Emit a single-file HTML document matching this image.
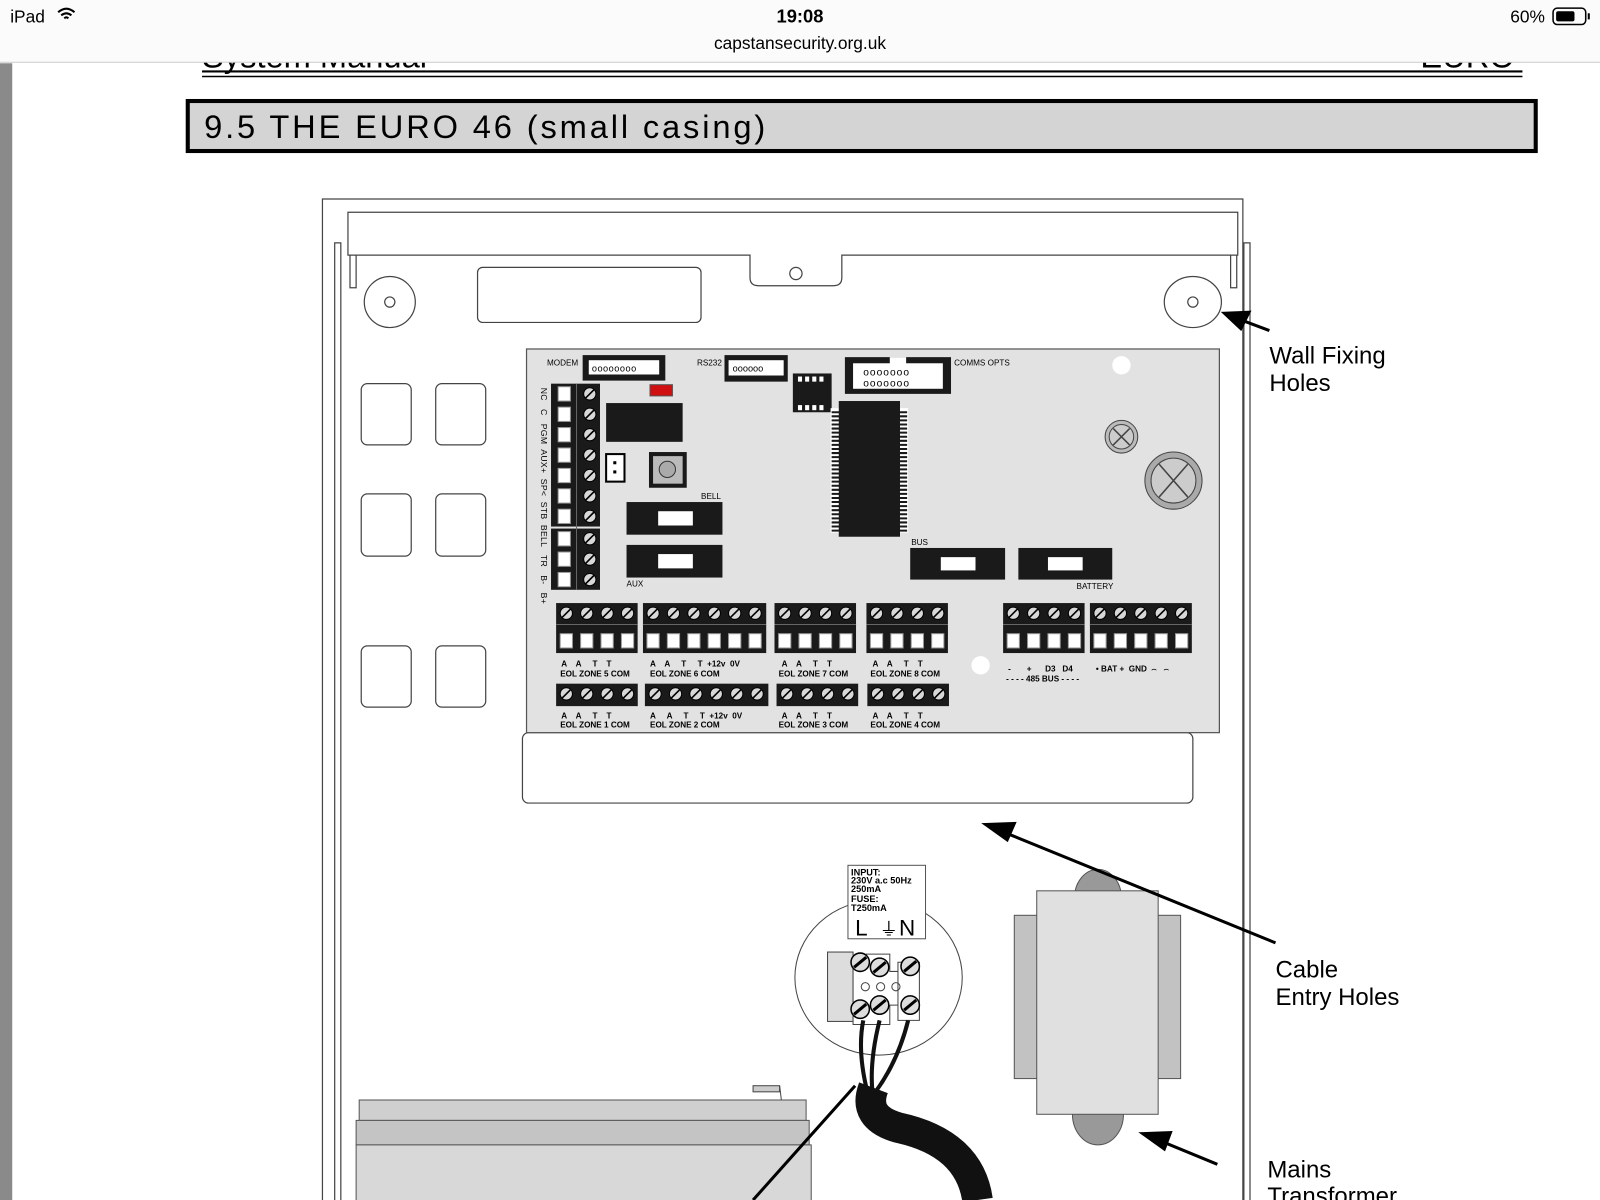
<!DOCTYPE html>
<html><head><meta charset="utf-8"><style>
html,body{margin:0;padding:0;background:#fff;width:1600px;height:1200px;overflow:hidden}
svg{display:block}
text{font-family:"Liberation Sans",sans-serif;white-space:pre}
</style></head><body>
<svg width="1600" height="1200" viewBox="0 0 1568 1176" xmlns="http://www.w3.org/2000/svg" xml:space="preserve">
<defs>
<g id="s"><circle r="6" fill="#d8d8d8" stroke="#000" stroke-width="1"/><line x1="-4" y1="4" x2="4" y2="-4" stroke="#000" stroke-width="1.6"/></g>
<rect id="p" x="-6" y="-7" width="12" height="14" fill="#fff" stroke="#999"/>
<g id="ls"><circle r="9" fill="#ddd" stroke="#000" stroke-width="1.5"/><line x1="-6" y1="5" x2="6" y2="-5" stroke="#000" stroke-width="3"/></g>
</defs>
<rect width="1568" height="1176" fill="#fff"/>
<!-- header text cut off -->
<text x="198" y="66" font-size="32" fill="#000">System Manual</text>
<text x="1392" y="66" font-size="32" fill="#000">EURO</text>
<!-- status bar -->
<rect x="0" y="0" width="1568" height="61" fill="#fbfbfb"/>
<line x1="0" y1="61" x2="1568" y2="61" stroke="#ccc"/>
<text x="10" y="22" font-size="17">iPad</text>
<path d="M57 12 q8-7 16 0 M60 15 q5-4 10 0 M63 18 q2-2 4 0" stroke="#000" stroke-width="2" fill="none"/>
<text x="784" y="22" font-size="18" font-weight="bold" text-anchor="middle">19:08</text>
<text x="784" y="48" font-size="17" text-anchor="middle">capstansecurity.org.uk</text>
<text x="1480" y="22" font-size="17">60%</text>
<rect x="1522" y="8" width="32" height="16" rx="4" fill="none" stroke="#000" stroke-width="1.5"/>
<rect x="1525" y="11" width="18" height="10" rx="2" fill="#000"/>
<rect x="1556" y="13" width="2" height="6" fill="#000"/>
<rect x="0" y="62" width="12" height="1114" fill="#8a8a8a"/>
<line x1="198" y1="70" x2="1492" y2="70" stroke="#000" stroke-width="2"/>
<line x1="198" y1="75" x2="1492" y2="75" stroke="#000" stroke-width="1.5"/>
<!-- title -->
<rect x="184" y="99" width="1321" height="49" fill="#d4d4d4" stroke="#000" stroke-width="4"/>
<text x="200" y="135" font-size="32" letter-spacing="2.8">9.5 THE EURO 46 (small casing)</text>
<!-- casing -->
<g fill="none" stroke="#444" stroke-width="1.2">
<path d="M316 1176 V195 H1218 V1176"/>
<path d="M328 1176 V238 H334 V1176"/>
<path d="M1219 1176 V238 H1225 V1176"/>
<path d="M341 250 V208 H1213 V250 H825 V272 Q825 280 817 280 H743 Q735 280 735 272 V250 Z"/>
<path d="M343 250 V282 H349 V250 M1206 250 V282 H1212 V250"/>
<circle cx="780" cy="268" r="6"/>
<ellipse cx="382" cy="296" rx="25" ry="25"/><circle cx="382" cy="296" r="5"/>
<ellipse cx="1169" cy="296" rx="28" ry="25"/><circle cx="1169" cy="296" r="5"/>
<rect x="468" y="262" width="219" height="54" rx="5"/>
<rect x="354" y="376" width="49" height="60" rx="6"/><rect x="427" y="376" width="49" height="60" rx="6"/>
<rect x="354" y="484" width="49" height="61" rx="6"/><rect x="427" y="484" width="49" height="61" rx="6"/>
<rect x="354" y="633" width="49" height="60" rx="6"/><rect x="427" y="633" width="49" height="60" rx="6"/>
<rect x="512" y="718" width="657" height="69" rx="6"/>
</g>
<!-- PCB -->
<rect x="516" y="342" width="679" height="376" fill="#e2e2e2" stroke="#555" stroke-width="1.2"/>
<g font-size="8" fill="#000">
<text x="536" y="358">MODEM</text><text x="683" y="358">RS232</text><text x="935" y="358">COMMS OPTS</text>
<text x="687" y="489">BELL</text><text x="614" y="575">AUX</text><text x="893" y="534">BUS</text><text x="1055" y="577">BATTERY</text>
</g>
<rect x="571" y="348" width="81" height="25" fill="#1a1a1a"/><rect x="577" y="353" width="69" height="14" fill="#fff"/>
<text x="580" y="364" font-size="9" letter-spacing="0.5">oooooooo</text>
<rect x="710" y="348" width="62" height="26" fill="#1a1a1a"/><rect x="714" y="353" width="54" height="15" fill="#fff"/>
<text x="718" y="364" font-size="9">oooooo</text>
<rect x="828" y="350" width="104" height="36" fill="#1a1a1a"/><rect x="836" y="356" width="88" height="25" fill="#fff"/>
<rect x="872" y="350" width="16" height="7" fill="#fff"/>
<text x="846" y="368" font-size="10" letter-spacing="1">ooooooo</text><text x="846" y="379" font-size="10" letter-spacing="1">ooooooo</text>
<rect x="777" y="366" width="38" height="38" fill="#1a1a1a"/>
<g fill="#fff"><rect x="782" y="369" width="4" height="5"/><rect x="789" y="369" width="4" height="5"/><rect x="796" y="369" width="4" height="5"/><rect x="803" y="369" width="4" height="5"/><rect x="782" y="397" width="4" height="5"/><rect x="789" y="397" width="4" height="5"/><rect x="796" y="397" width="4" height="5"/><rect x="803" y="397" width="4" height="5"/></g>
<rect x="814" y="400" width="76" height="122" fill="#fff"/>
<path d="M815 404 H889 M815 408 H889 M815 412 H889 M815 416 H889 M815 420 H889 M815 424 H889 M815 428 H889 M815 432 H889 M815 436 H889 M815 440 H889 M815 444 H889 M815 448 H889 M815 452 H889 M815 456 H889 M815 460 H889 M815 464 H889 M815 468 H889 M815 472 H889 M815 476 H889 M815 480 H889 M815 484 H889 M815 488 H889 M815 492 H889 M815 496 H889 M815 500 H889 M815 504 H889 M815 508 H889 M815 512 H889 M815 516 H889 M815 520 H889" stroke="#1a1a1a" stroke-width="2"/>
<rect x="822" y="393" width="60" height="133" fill="#1a1a1a"/>
<rect x="594" y="395" width="75" height="38" fill="#1a1a1a"/>
<rect x="637" y="377" width="22" height="11" fill="#d01010" stroke="#555"/>
<rect x="636" y="443" width="37" height="35" fill="#1a1a1a"/><rect x="640" y="447" width="29" height="27" fill="#bbb"/><circle cx="654" cy="460" r="8" fill="#aaa" stroke="#333"/>
<rect x="594" y="445" width="18" height="27" fill="#fff" stroke="#000" stroke-width="2"/><rect x="601" y="452" width="3" height="3"/><rect x="601" y="461" width="3" height="3"/>
<rect x="614" y="492" width="94" height="32" fill="#1a1a1a"/><rect x="645" y="501" width="34" height="14" fill="#fff"/>
<rect x="614" y="534" width="94" height="32" fill="#1a1a1a"/><rect x="645" y="543" width="34" height="14" fill="#fff"/>
<rect x="892" y="537" width="93" height="31" fill="#1a1a1a"/><rect x="922" y="546" width="34" height="13" fill="#fff"/>
<rect x="998" y="537" width="92" height="31" fill="#1a1a1a"/><rect x="1027" y="546" width="34" height="13" fill="#fff"/>
<circle cx="1099" cy="358" r="9" fill="#fff"/><circle cx="961" cy="652" r="9" fill="#fff"/>
<g stroke="#444" fill="#bbb"><circle cx="1099" cy="428" r="16"/><circle cx="1099" cy="428" r="12" fill="#ccc"/><path d="M1091 420 L1107 436 M1107 420 L1091 436" stroke-width="1.5"/>
<circle cx="1150" cy="471" r="28" fill="#aaa"/><circle cx="1150" cy="471" r="22" fill="#ccc"/><path d="M1136 455 L1164 487 M1164 455 L1136 487" stroke-width="1.5"/></g>
<!-- left vertical terminal -->
<rect x="540" y="376" width="48" height="140" fill="#1a1a1a"/><rect x="540" y="518" width="48" height="60" fill="#1a1a1a"/>
<line x1="565" y1="376" x2="565" y2="578" stroke="#666"/>
<g>
<use href="#p" x="553" y="386"/><use href="#s" x="578" y="386"/>
<use href="#p" x="553" y="406"/><use href="#s" x="578" y="406"/>
<use href="#p" x="553" y="426"/><use href="#s" x="578" y="426"/>
<use href="#p" x="553" y="446"/><use href="#s" x="578" y="446"/>
<use href="#p" x="553" y="466"/><use href="#s" x="578" y="466"/>
<use href="#p" x="553" y="486"/><use href="#s" x="578" y="486"/>
<use href="#p" x="553" y="506"/><use href="#s" x="578" y="506"/>
<use href="#p" x="553" y="528"/><use href="#s" x="578" y="528"/>
<use href="#p" x="553" y="548"/><use href="#s" x="578" y="548"/>
<use href="#p" x="553" y="568"/><use href="#s" x="578" y="568"/>
</g>
<text transform="translate(530,380) rotate(90)" font-size="8.5" letter-spacing="0.3">NC   C   PGM  AUX+  SP&lt;  STB  BELL   TR   B-   B+</text>
<!-- bottom terminal blocks -->
<g fill="#1a1a1a">
<rect x="545" y="591" width="80" height="49"/><rect x="630" y="591" width="121" height="49"/><rect x="759" y="591" width="80" height="49"/><rect x="849" y="591" width="80" height="49"/><rect x="983" y="591" width="80" height="49"/><rect x="1068" y="591" width="100" height="49"/>
<rect x="545" y="670" width="80" height="22"/><rect x="632" y="670" width="121" height="22"/><rect x="761" y="670" width="80" height="22"/><rect x="850" y="670" width="80" height="22"/>
</g>
<g stroke="#666" stroke-width="1"><line x1="545" y1="612" x2="1168" y2="612"/></g>
<rect x="625" y="591" width="5" height="49" fill="#e2e2e2"/><rect x="751" y="591" width="8" height="49" fill="#e2e2e2"/><rect x="839" y="591" width="10" height="49" fill="#e2e2e2"/><rect x="929" y="591" width="54" height="49" fill="#e2e2e2"/><rect x="1063" y="591" width="5" height="49" fill="#e2e2e2"/>
<g>
<use href="#s" x="555" y="601"/><use href="#s" x="575" y="601"/><use href="#s" x="595" y="601"/><use href="#s" x="615" y="601"/>
<use href="#s" x="640" y="601"/><use href="#s" x="660" y="601"/><use href="#s" x="680" y="601"/><use href="#s" x="700" y="601"/><use href="#s" x="720" y="601"/><use href="#s" x="740" y="601"/>
<use href="#s" x="769" y="601"/><use href="#s" x="789" y="601"/><use href="#s" x="809" y="601"/><use href="#s" x="829" y="601"/>
<use href="#s" x="859" y="601"/><use href="#s" x="879" y="601"/><use href="#s" x="899" y="601"/><use href="#s" x="919" y="601"/>
<use href="#s" x="993" y="601"/><use href="#s" x="1013" y="601"/><use href="#s" x="1033" y="601"/><use href="#s" x="1053" y="601"/>
<use href="#s" x="1078" y="601"/><use href="#s" x="1098" y="601"/><use href="#s" x="1118" y="601"/><use href="#s" x="1138" y="601"/><use href="#s" x="1158" y="601"/>
<use href="#p" x="555" y="628"/><use href="#p" x="575" y="628"/><use href="#p" x="595" y="628"/><use href="#p" x="615" y="628"/>
<use href="#p" x="640" y="628"/><use href="#p" x="660" y="628"/><use href="#p" x="680" y="628"/><use href="#p" x="700" y="628"/><use href="#p" x="720" y="628"/><use href="#p" x="740" y="628"/>
<use href="#p" x="769" y="628"/><use href="#p" x="789" y="628"/><use href="#p" x="809" y="628"/><use href="#p" x="829" y="628"/>
<use href="#p" x="859" y="628"/><use href="#p" x="879" y="628"/><use href="#p" x="899" y="628"/><use href="#p" x="919" y="628"/>
<use href="#p" x="993" y="628"/><use href="#p" x="1013" y="628"/><use href="#p" x="1033" y="628"/><use href="#p" x="1053" y="628"/>
<use href="#p" x="1078" y="628"/><use href="#p" x="1098" y="628"/><use href="#p" x="1118" y="628"/><use href="#p" x="1138" y="628"/><use href="#p" x="1158" y="628"/>
<use href="#s" x="555" y="680"/><use href="#s" x="575" y="680"/><use href="#s" x="595" y="680"/><use href="#s" x="615" y="680"/>
<use href="#s" x="642" y="680"/><use href="#s" x="662" y="680"/><use href="#s" x="682" y="680"/><use href="#s" x="702" y="680"/><use href="#s" x="722" y="680"/><use href="#s" x="742" y="680"/>
<use href="#s" x="771" y="680"/><use href="#s" x="791" y="680"/><use href="#s" x="811" y="680"/><use href="#s" x="831" y="680"/>
<use href="#s" x="860" y="680"/><use href="#s" x="880" y="680"/><use href="#s" x="900" y="680"/><use href="#s" x="920" y="680"/>
</g>
<g font-size="8" font-weight="bold">
<text x="550" y="653">A    A     T    T</text><text x="549" y="663">EOL ZONE 5 COM</text>
<text x="637" y="653">A    A     T     T  +12v  0V</text><text x="637" y="663">EOL ZONE 6 COM</text>
<text x="766" y="653">A    A     T    T</text><text x="763" y="663">EOL ZONE 7 COM</text>
<text x="855" y="653">A    A     T    T</text><text x="853" y="663">EOL ZONE 8 COM</text>
<text x="988" y="658">-       +      D3   D4</text><text x="986" y="668">- - - - 485 BUS - - - -</text>
<text x="1074" y="658">• BAT +  GND  ⌢   ⌢</text>
<text x="550" y="704">A    A     T    T</text><text x="549" y="713">EOL ZONE 1 COM</text>
<text x="637" y="704">A     A     T     T  +12v  0V</text><text x="637" y="713">EOL ZONE 2 COM</text>
<text x="766" y="704">A    A     T    T</text><text x="763" y="713">EOL ZONE 3 COM</text>
<text x="855" y="704">A    A     T    T</text><text x="853" y="713">EOL ZONE 4 COM</text>
</g>
<!-- mains terminal -->
<ellipse cx="861" cy="958" rx="82" ry="76" fill="#fff" stroke="#444"/>
<rect x="831" y="848" width="76" height="72" fill="#fff" stroke="#555"/>
<g font-size="9" font-weight="bold"><text x="834" y="858">INPUT:</text><text x="834" y="866">230V a.c 50Hz</text><text x="834" y="874">250mA</text><text x="834" y="884">FUSE:</text><text x="834" y="893">T250mA</text></g>
<text x="838" y="917" font-size="22">L</text><text x="862" y="917" font-size="18">⏚</text><text x="881" y="917" font-size="22">N</text>
<rect x="827" y="950" width="10" height="24" fill="#ccc" stroke="#444"/>
<rect x="811" y="933" width="25" height="68" fill="#ddd" stroke="#444"/>
<path d="M836 1004 V943 H849 V935 H872 V952 H880 V985 H872 V1004 Z M880 952 V943 H901 V1000 H880 Z" fill="#fff" stroke="#444"/>
<use href="#ls" x="843" y="943"/><use href="#ls" x="862" y="948"/><use href="#ls" x="892" y="947"/>
<use href="#ls" x="843" y="989"/><use href="#ls" x="862" y="985"/><use href="#ls" x="892" y="985"/>
<g fill="none" stroke="#444"><circle cx="848" cy="967" r="4"/><circle cx="863" cy="967" r="4"/><circle cx="878" cy="967" r="4"/></g>
<path d="M846 1000 Q840 1030 850 1070 M862 1000 Q852 1040 855 1070 M890 1000 Q880 1040 858 1070" stroke="#111" stroke-width="4" fill="none"/>
<path d="M856 1066 Q845 1095 880 1105 Q950 1120 958 1176" stroke="#111" stroke-width="30" fill="none"/>
<!-- transformer -->
<ellipse cx="1076" cy="880" rx="23" ry="28" fill="#999" stroke="#555"/>
<ellipse cx="1076" cy="1092" rx="25" ry="30" fill="#999" stroke="#555"/>
<rect x="994" y="897" width="163" height="160" fill="#c2c2c2" stroke="#555"/>
<rect x="1016" y="873" width="119" height="219" fill="#e0e0e0" stroke="#555"/>
<!-- battery -->
<rect x="738" y="1064" width="26" height="6" fill="#ccc" stroke="#444"/><line x1="764" y1="1064" x2="766" y2="1080" stroke="#444"/>
<rect x="352" y="1078" width="438" height="20" fill="#cfcfcf" stroke="#555"/>
<rect x="349" y="1098" width="444" height="24" fill="#c4c4c4" stroke="#555"/>
<rect x="349" y="1122" width="446" height="60" fill="#d8d8d8" stroke="#555"/>
<!-- arrows -->
<g stroke="#000" stroke-width="3" fill="#000">
<line x1="1244" y1="324" x2="1212" y2="312"/><path d="M1200 307 L1224 306 L1216 322 Z"/>
<line x1="1250" y1="924" x2="985" y2="816"/><path d="M966 808 L994 807 L987 823 Z"/>
<line x1="1193" y1="1141" x2="1137" y2="1118"/><path d="M1120 1111 L1147 1110 L1141 1126 Z"/>
<line x1="838" y1="1064" x2="738" y2="1176"/>
</g>
<g font-size="23.5">
<text x="1244" y="356">Wall Fixing</text><text x="1244" y="383">Holes</text>
<text x="1250" y="958">Cable</text><text x="1250" y="985">Entry Holes</text>
<text x="1242" y="1154">Mains</text><text x="1242" y="1180">Transformer</text>
</g>
</svg>
</body></html>
